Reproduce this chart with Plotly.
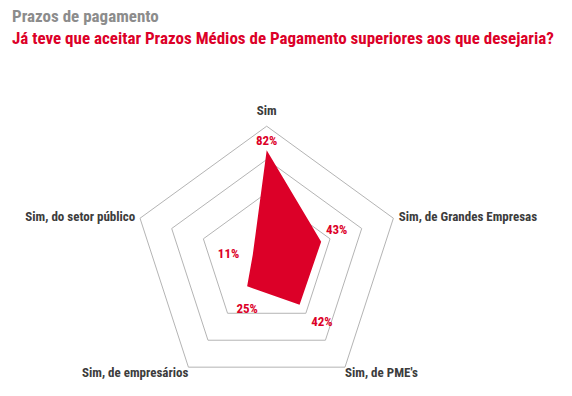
import plotly.graph_objects as go

categories = ["Sim", "Sim, de Grandes Empresas", "Sim, de PME's", "Sim, de empresários", "Sim, do setor público"]
values = [82, 43, 42, 25, 11]
value_labels = ["82%", "43%", "42%", "25%", "11%"]
r_max = 100

# label placement (style only)
value_label_positions = ["top center", "top right", "bottom right", "bottom center", "middle left"]
value_label_pad = [1, 6, 17, 26, 20]
cat_label_positions = ["top center", "middle right", "bottom right", "bottom left", "middle left"]
cat_label_pad = [11, 7, 0, 0, 6]

RED = "#dc0028"
GRID = "#b4b4b4"
FONT = "Roboto Condensed"

fig = go.Figure()
fig.add_trace(go.Scatterpolar(
    r=values + [values[0]],
    theta=categories + [categories[0]],
    mode="lines",
    fill="toself",
    fillcolor=RED,
    line=dict(color=RED, width=0),
    hoverinfo="skip",
    showlegend=False,
))
fig.add_trace(go.Scatterpolar(
    r=values,
    theta=categories,
    mode="markers+text",
    marker=dict(size=value_label_pad, color="rgba(0,0,0,0)", line=dict(width=0)),
    text=value_labels,
    textposition=value_label_positions,
    textfont=dict(family=FONT, size=13, color=RED, weight="bold"),
    hoverinfo="skip",
    showlegend=False,
))
# category labels at the outer vertices
fig.add_trace(go.Scatterpolar(
    r=[r_max] * len(categories),
    theta=categories,
    mode="markers+text",
    marker=dict(size=cat_label_pad, color="rgba(0,0,0,0)", line=dict(width=0)),
    text=categories,
    textposition=cat_label_positions,
    textfont=dict(family=FONT, size=13, color="#3c3c3c", weight="bold"),
    cliponaxis=False,
    hoverinfo="skip",
    showlegend=False,
))

W, H = 572, 396
cx, cy, R = 266.7, 259.4, 133.2
fig.update_layout(
    width=W, height=H,
    margin=dict(l=0, r=0, t=0, b=0),
    paper_bgcolor="white",
    font=dict(family=FONT),
    polar=dict(
        domain=dict(x=[(cx - R) / W, (cx + R) / W], y=[1 - (cy + R) / H, 1 - (cy - R) / H]),
        bgcolor="white",
        gridshape="linear",
        radialaxis=dict(range=[0, r_max], tickvals=[50, 75], showticklabels=False, ticks="",
                        showline=False, gridcolor=GRID, gridwidth=1),
        angularaxis=dict(rotation=90, direction="clockwise", showgrid=False, ticks="",
                         showticklabels=False,
                         showline=True, linecolor=GRID, linewidth=1),
    ),
    annotations=[
        dict(x=10 / W, y=1 - 16 / H, xref="paper", yref="paper", xanchor="left", yanchor="middle",
             showarrow=False, text="Prazos de pagamento",
             font=dict(family=FONT, size=17, color="#8c8c8c", weight="bold")),
        dict(x=10 / W, y=1 - 38 / H, xref="paper", yref="paper", xanchor="left", yanchor="middle",
             showarrow=False, text="Já teve que aceitar Prazos Médios de Pagamento superiores aos que desejaria?",
             font=dict(family=FONT, size=17, color=RED, weight="bold")),
    ],
)
fig.write_html("out.html", config={"displayModeBar": False},
               post_script="document.body.style.margin='0';")
